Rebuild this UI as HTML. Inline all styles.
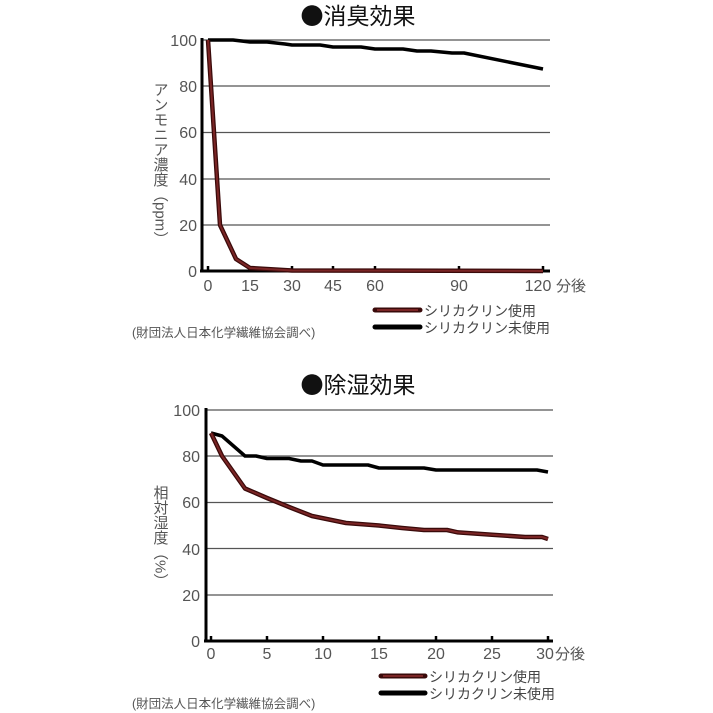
<!DOCTYPE html>
<html><head><meta charset="utf-8"><style>
html,body{margin:0;padding:0;background:#fff;}
svg{display:block;font-family:"Liberation Sans","Noto Sans CJK JP",sans-serif;}
.t{font-family:"Noto Sans CJK JP",sans-serif;}
</style></head><body>
<svg width="713" height="713" viewBox="0 0 713 713" xmlns="http://www.w3.org/2000/svg">
<!-- TOP CHART -->
<text class="t" x="358" y="24" font-size="23" text-anchor="middle" fill="#111">●消臭効果</text>
<g stroke="#555" stroke-width="1.3">
<line x1="202" y1="40" x2="550" y2="40"/><line x1="202" y1="86" x2="550" y2="86"/>
<line x1="202" y1="132.5" x2="550" y2="132.5"/><line x1="202" y1="179" x2="550" y2="179"/>
<line x1="202" y1="225" x2="550" y2="225"/>
</g>
<g stroke="#000" stroke-width="3" fill="none">
<line x1="202" y1="38" x2="202" y2="272"/><line x1="200" y1="271" x2="550" y2="271"/>
</g>
<g stroke="#000" stroke-width="2.5">
<line x1="208" y1="266" x2="208" y2="271"/><line x1="250" y1="266" x2="250" y2="271"/>
<line x1="292" y1="266" x2="292" y2="271"/><line x1="333" y1="266" x2="333" y2="271"/>
<line x1="375" y1="266" x2="375" y2="271"/><line x1="459" y1="266" x2="459" y2="271"/>
<line x1="543" y1="266" x2="543" y2="271"/>
</g>
<g font-size="16" fill="#555" text-anchor="end">
<text x="197" y="46">100</text><text x="197" y="92">80</text><text x="197" y="138">60</text>
<text x="197" y="185">40</text><text x="197" y="231">20</text><text x="197" y="277">0</text>
</g>
<g font-size="16" fill="#555" text-anchor="middle">
<text x="208" y="291">0</text><text x="250" y="291">15</text><text x="292" y="291">30</text>
<text x="333" y="291">45</text><text x="375" y="291">60</text><text x="459" y="291">90</text>
<text x="538" y="291">120</text>
</g>
<text x="556" y="291" font-size="15" fill="#555">分後</text>
<text x="160" y="82" font-size="15" fill="#555" style="writing-mode:vertical-rl">アンモニア濃度（ppm）</text>
<polyline fill="none" stroke="#000" stroke-width="3.5" stroke-linejoin="round" points="208,40 233,40 250,42 267,42 285,44 292,45 320,45 333,47 361,47 375,49 403,49 417,51 431,51 452,53 464,53 543,69"/>
<polyline fill="none" stroke="#3a0a0a" stroke-width="4.5" stroke-linejoin="round" points="208,40 220,225 236,259 250,268 292,270.5 543,271"/>
<polyline fill="none" stroke="#7a2525" stroke-width="2" stroke-linejoin="round" points="208,40 220,225 236,259 250,268 292,270.5 543,271"/>
<line x1="375" y1="310" x2="420" y2="310" stroke="#3a0a0a" stroke-width="5" stroke-linecap="round"/>
<line x1="377" y1="310" x2="418" y2="310" stroke="#7a2525" stroke-width="2"/>
<line x1="375" y1="327" x2="420" y2="327" stroke="#000" stroke-width="5" stroke-linecap="round"/>
<text x="424" y="316" font-size="14" fill="#444">シリカクリン使用</text>
<text x="424" y="333" font-size="14" fill="#444">シリカクリン未使用</text>
<text x="132" y="337" font-size="12.5" fill="#555">(財団法人日本化学繊維協会調べ)</text>

<!-- BOTTOM CHART -->
<text class="t" x="358" y="393" font-size="23" text-anchor="middle" fill="#111">●除湿効果</text>
<g stroke="#555" stroke-width="1.3">
<line x1="206" y1="410" x2="553" y2="410"/><line x1="206" y1="456" x2="553" y2="456"/>
<line x1="206" y1="502.5" x2="553" y2="502.5"/><line x1="206" y1="548.5" x2="553" y2="548.5"/>
<line x1="206" y1="595" x2="553" y2="595"/>
</g>
<g stroke="#000" stroke-width="3" fill="none">
<line x1="206" y1="408" x2="206" y2="642"/><line x1="204" y1="641" x2="553" y2="641"/>
</g>
<g stroke="#000" stroke-width="2.5">
<line x1="211" y1="636" x2="211" y2="641"/><line x1="267" y1="636" x2="267" y2="641"/>
<line x1="323" y1="636" x2="323" y2="641"/><line x1="379" y1="636" x2="379" y2="641"/>
<line x1="436" y1="636" x2="436" y2="641"/><line x1="492" y1="636" x2="492" y2="641"/>
<line x1="548" y1="636" x2="548" y2="641"/>
</g>
<g font-size="16" fill="#555" text-anchor="end">
<text x="200" y="416">100</text><text x="200" y="462">80</text><text x="200" y="508">60</text>
<text x="200" y="555">40</text><text x="200" y="601">20</text><text x="200" y="647">0</text>
</g>
<g font-size="16" fill="#555" text-anchor="middle">
<text x="211" y="659">0</text><text x="267" y="659">5</text><text x="323" y="659">10</text>
<text x="379" y="659">15</text><text x="436" y="659">20</text><text x="492" y="659">25</text>
<text x="545" y="659">30</text>
</g>
<text x="555" y="659" font-size="15" fill="#555">分後</text>
<text x="160" y="485" font-size="15" fill="#555" style="writing-mode:vertical-rl">相対湿度（%）</text>
<polyline fill="none" stroke="#000" stroke-width="3.5" stroke-linejoin="round" points="211,433 222,436 245,456 256,456 267,458.5 289,458.5 301,461 312,461 323,465 368,465 379,468 424,468 436,470 537,470 548,472"/>
<polyline fill="none" stroke="#3a0a0a" stroke-width="4.5" stroke-linejoin="round" points="211,433 222,456 245,488.5 267,498 289,507 312,516 346,523 379,525.5 402,528 424,530 447,530 458,532.4 492,534.7 525,537 542,537 548,539"/>
<polyline fill="none" stroke="#7a2525" stroke-width="2" stroke-linejoin="round" points="211,433 222,456 245,488.5 267,498 289,507 312,516 346,523 379,525.5 402,528 424,530 447,530 458,532.4 492,534.7 525,537 542,537 548,539"/>
<line x1="381" y1="676" x2="425" y2="676" stroke="#3a0a0a" stroke-width="5" stroke-linecap="round"/>
<line x1="383" y1="676" x2="423" y2="676" stroke="#7a2525" stroke-width="2"/>
<line x1="381" y1="693" x2="425" y2="693" stroke="#000" stroke-width="5" stroke-linecap="round"/>
<text x="429" y="682" font-size="14" fill="#444">シリカクリン使用</text>
<text x="429" y="699" font-size="14" fill="#444">シリカクリン未使用</text>
<text x="132" y="708" font-size="12.5" fill="#555">(財団法人日本化学繊維協会調べ)</text>
</svg>
</body></html>
